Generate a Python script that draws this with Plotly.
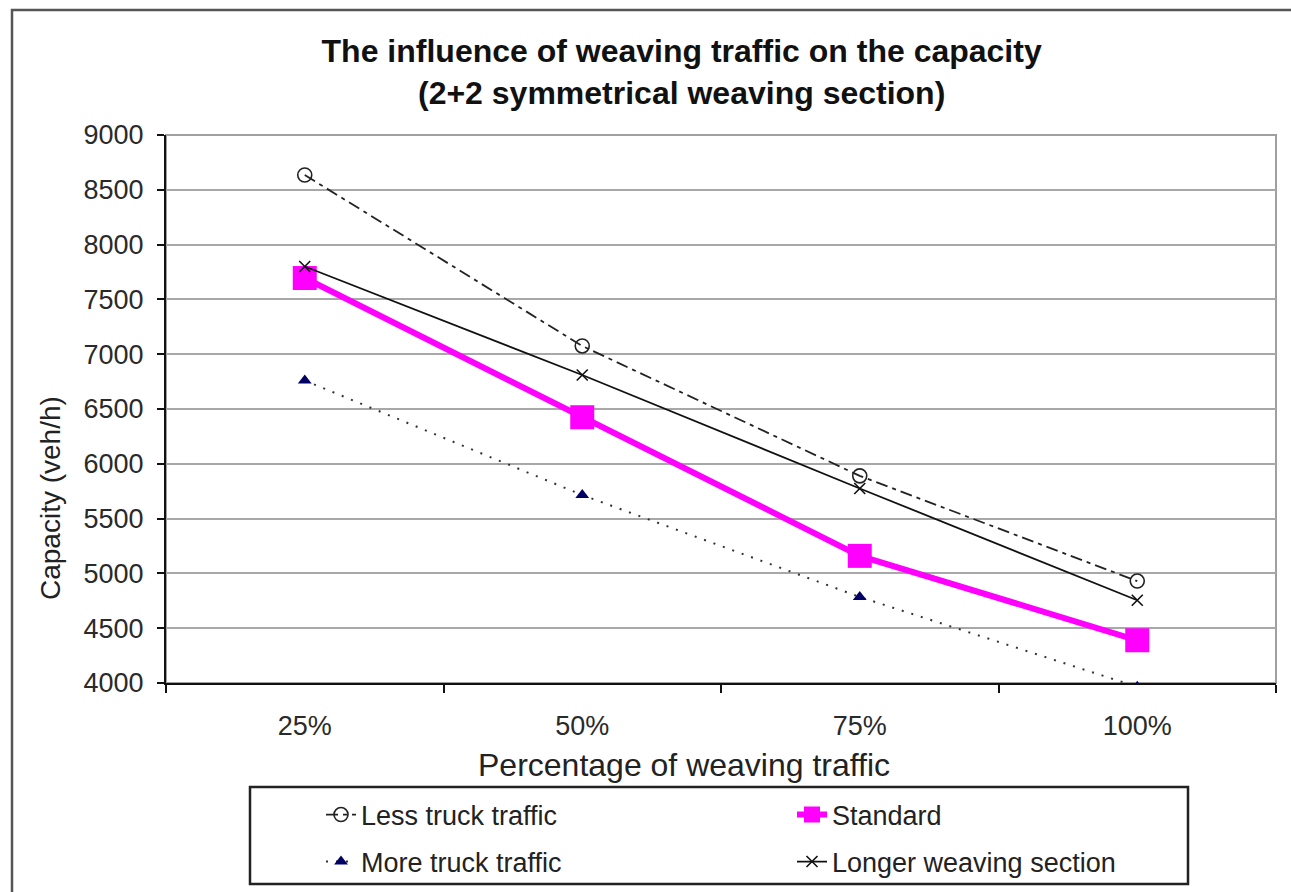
import plotly.graph_objects as go

# Share of weaving traffic (category axis)
weaving_share = ["25%", "50%", "75%", "100%"]

# Capacity in veh/h for each scenario
less_truck = [8635, 7075, 5890, 4930]
standard = [7695, 6425, 5160, 4390]
more_truck = [6760, 5715, 4785, 3965]
longer_section = [7800, 6810, 5775, 4755]

y_ticks = [4000, 4500, 5000, 5500, 6000, 6500, 7000, 7500, 8000, 8500, 9000]

FONT = "Liberation Sans, Arial, sans-serif"
W, H = 1291, 892

# plot area in pixels, used to place paper-referenced items
PL, PR, PT, PB = 166, 1276, 135, 683
PW, PH = PR - PL, PB - PT


def px_x(x):
    return (x - PL) / PW


def px_y(y):
    return (PB - y) / PH


fig = go.Figure()

fig.add_trace(go.Scatter(
    x=weaving_share, y=less_truck, name="Less truck traffic", legend="legend",
    mode="lines+markers",
    line=dict(color="#222222", width=1.8, dash="12px,5px,4px,5px"),
    marker=dict(symbol="circle-open", size=14, color="#222222", line=dict(width=1.6)),
))
fig.add_trace(go.Scatter(
    x=weaving_share, y=standard, name="Standard", legend="legend",
    mode="lines+markers",
    line=dict(color="#ff00ff", width=6),
    marker=dict(symbol="square", size=24, color="#ff00ff"),
))
fig.add_trace(go.Scatter(
    x=weaving_share, y=more_truck, name="More truck traffic", legend="legend2",
    mode="lines+markers",
    line=dict(color="#333333", width=2, dash="2px,8px"),
    marker=dict(symbol="triangle-up", size=12, color="#000066"),
))
fig.add_trace(go.Scatter(
    x=weaving_share, y=longer_section, name="Longer weaving section", legend="legend2",
    mode="lines+markers",
    line=dict(color="#111111", width=1.8),
    marker=dict(symbol="x-thin", size=11, color="#111111", line=dict(width=1.6, color="#111111")),
))

legend_style = dict(
    orientation="h", xanchor="left", yanchor="middle",
    xref="container", yref="container",
    entrywidth=426, bgcolor="rgba(0,0,0,0)", borderwidth=0,
    font=dict(size=27, family=FONT, color="#222222"),
    traceorder="normal",
)
legend_x = (367 - 46) / W

fig.update_layout(
    width=W, height=H,
    margin=dict(l=PL, r=W - PR, t=PT, b=H - PB, autoexpand=False),
    paper_bgcolor="white", plot_bgcolor="white",
    font=dict(family=FONT, color="#222222"),
    title=dict(
        text="<b>The influence of weaving traffic on the capacity<br>(2+2 symmetrical weaving section)</b>",
        x=0.528, xanchor="center", xref="container",
        y=1 - 62 / H, yanchor="top", yref="container",
        font=dict(size=32, color="#111111", family=FONT),
    ),
    showlegend=True,
    legend=dict(x=legend_x, y=(H - 815) / H, **legend_style),
    legend2=dict(x=legend_x, y=(H - 862) / H, **legend_style),
    annotations=[
        dict(text="Capacity (veh/h)", xref="paper", yref="paper",
             x=px_x(50), y=px_y(498), xanchor="center", yanchor="middle",
             textangle=-90, showarrow=False,
             font=dict(size=28, family=FONT, color="#222222")),
        dict(text="Percentage of weaving traffic", xref="paper", yref="paper",
             x=px_x(684), y=px_y(765), xanchor="center", yanchor="middle",
             showarrow=False,
             font=dict(size=32, family=FONT, color="#222222")),
    ],
    shapes=[
        # plot-area frame (grey)
        dict(type="rect", xref="paper", yref="paper", x0=0, x1=1, y0=0, y1=1,
             line=dict(color="#a0a0a0", width=2), layer="below"),
        # outer chart frame
        dict(type="rect", xref="paper", yref="paper", x0=px_x(12), x1=1.2, y0=-0.6, y1=px_y(10),
             line=dict(color="#555555", width=2.5), layer="below"),
        # legend box
        dict(type="rect", xref="paper", yref="paper",
             x0=px_x(250), x1=px_x(1188), y0=px_y(884), y1=px_y(787),
             line=dict(color="#222222", width=2.5), layer="below"),
    ],
)

fig.update_xaxes(
    type="category", range=[-0.5, 3.5],
    showline=True, linecolor="#111111", linewidth=2,
    ticks="outside", tickson="boundaries", ticklen=8, tickwidth=2, tickcolor="#111111",
    tickfont=dict(size=27, family=FONT, color="#2a2a2a"),
    ticklabelstandoff=18,
    showgrid=False, zeroline=False,
)
fig.update_yaxes(
    range=[4000, 9000], tickvals=y_ticks,
    showline=True, linecolor="#111111", linewidth=2,
    ticks="outside", ticklen=7, tickwidth=2, tickcolor="#111111",
    tickfont=dict(size=27, family=FONT, color="#2a2a2a"),
    ticklabelstandoff=8,
    showgrid=True, gridcolor="#a8a8a8", gridwidth=2, zeroline=False,
)

fig.write_html("out.html")
